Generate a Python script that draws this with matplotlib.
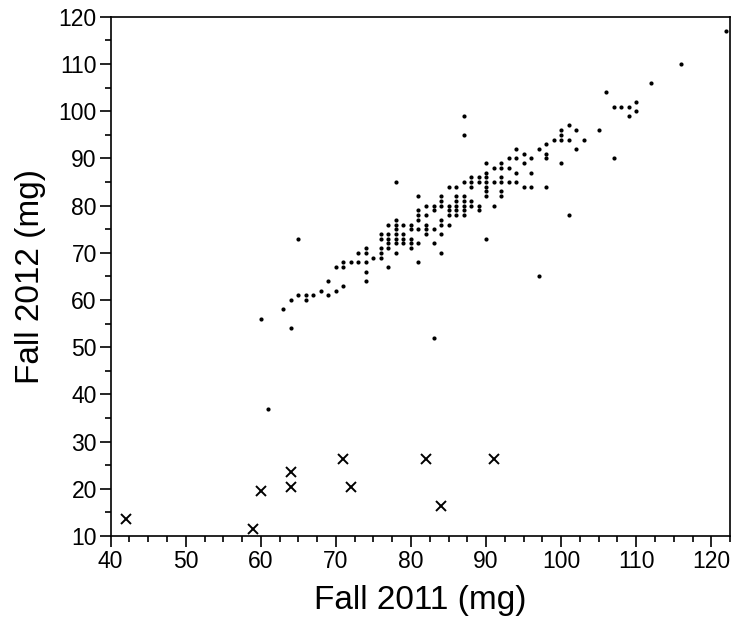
import matplotlib
matplotlib.use("Agg")
import matplotlib.pyplot as plt
from matplotlib.ticker import MultipleLocator

plt.rcParams['font.family'] = ['Liberation Sans', 'DejaVu Sans']

# Dots: Fall 2011 (x) -> list of Fall 2012 values (y)
dot_columns = {
    60: [56], 61: [37], 63: [58], 64: [60, 54], 65: [61, 73], 66: [61, 60],
    67: [61], 68: [62], 69: [64, 61], 70: [67, 62], 71: [68, 67, 63], 72: [68],
    73: [70, 68], 74: [71, 70, 68, 66, 64], 75: [69], 76: [74, 73, 71, 70, 69],
    77: [76, 74, 73, 72, 71, 67], 78: [85, 77, 76, 75, 74, 73, 72, 70],
    79: [76, 74, 73, 72], 80: [76, 75, 73, 72, 71],
    81: [82, 79, 78, 77, 75, 72, 68], 82: [80, 78, 76, 75, 74],
    83: [80, 79, 75, 72, 52], 84: [82, 81, 80, 77, 76, 74, 70],
    85: [84, 80, 79, 78, 76], 86: [84, 82, 81, 80, 79, 78],
    87: [99, 95, 85, 82, 81, 80, 79, 78], 88: [86, 85, 84, 81, 80],
    89: [86, 85, 80, 79], 90: [89, 87, 86, 85, 84, 83, 82, 73],
    91: [88, 85, 80], 92: [89, 88, 86, 85, 83, 82], 93: [90, 88, 85],
    94: [92, 90, 87, 85], 95: [91, 89, 84], 96: [90, 87, 84], 97: [92, 65],
    98: [93, 91, 90, 84], 99: [94], 100: [96, 95, 94, 89], 101: [97, 94, 78],
    102: [96, 92], 103: [94], 105: [96], 106: [104], 107: [101, 90],
    108: [101], 109: [101, 99], 110: [102, 100], 112: [106], 116: [110],
    122: [117],
}
dot_x = [x for x, ys in dot_columns.items() for _ in ys]
dot_y = [y for ys in dot_columns.values() for y in ys]

# Crosses (excluded samples)
cross_x = [42, 59, 60, 64, 64, 71, 72, 82, 84, 91]
cross_y = [13.5, 11.5, 19.5, 23.5, 20.3, 26.3, 20.3, 26.3, 16.3, 26.3]

fig = plt.figure(figsize=(7.33, 6.24), dpi=100)
ax = fig.add_axes([0.151, 0.141, 0.845, 0.832])

ax.plot(dot_x, dot_y, linestyle='none', marker='o', markersize=3.0,
        color='black', markeredgewidth=0)
ax.plot(cross_x, cross_y, linestyle='none', marker='x', markersize=7,
        color='black', markeredgewidth=1.4)

ax.set_xlim(40, 122.5)
ax.set_ylim(10, 120)
ax.xaxis.set_major_locator(MultipleLocator(10))
ax.xaxis.set_minor_locator(MultipleLocator(2.5))
ax.yaxis.set_major_locator(MultipleLocator(10))
ax.yaxis.set_minor_locator(MultipleLocator(5))
ax.tick_params(which='major', length=8, width=1.2, labelsize=16.5, color='black', pad=2)
ax.tick_params(which='minor', length=4.5, width=1.2)
for s in ax.spines.values():
    s.set_linewidth(1.2)

ax.set_xlabel('Fall 2011 (mg)', fontsize=24, labelpad=9)
ax.set_ylabel('Fall 2012 (mg)', fontsize=24, labelpad=9)

fig.savefig('out.png', dpi=100)
